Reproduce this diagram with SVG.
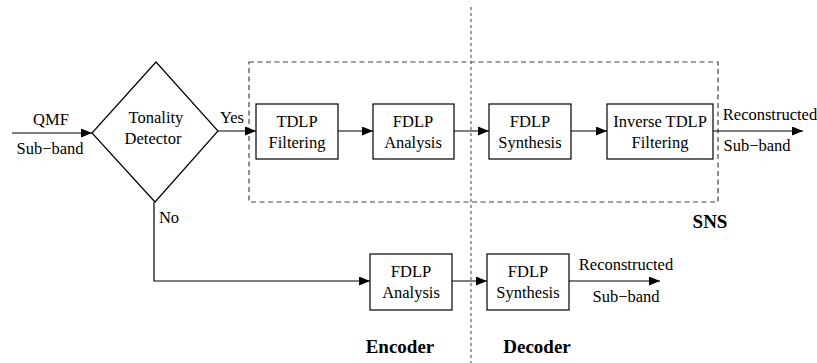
<svg xmlns="http://www.w3.org/2000/svg" width="817" height="363" viewBox="0 0 817 363">
<style>
text{font-family:"Liberation Serif","Times New Roman",serif;font-size:16.5px;fill:#000;text-anchor:middle}
.b{font-weight:bold;font-size:19px}
.box{fill:#fff;stroke:#000;stroke-width:1.2}
.ln{fill:none;stroke:#000;stroke-width:1.2}
</style>
<defs>
<marker id="ah" markerWidth="11" markerHeight="9" refX="11" refY="4.5" orient="auto" markerUnits="userSpaceOnUse">
<path d="M0,0 L11,4.5 L0,9 Z" fill="#000"/>
</marker>
</defs>
<rect width="817" height="363" fill="#fff"/>
<g id="divider">
<line x1="471" y1="7" x2="471" y2="363" stroke="#444" stroke-width="1" stroke-dasharray="3,3"/>
</g>
<g id="sns">
<rect x="249" y="62" width="469" height="140" fill="none" stroke="#444" stroke-width="1.2" stroke-dasharray="5,3.5"/>
<text class="b" x="710" y="228">SNS</text>
</g>
<g id="connectors">
<line class="ln" x1="12" y1="133" x2="92" y2="133" marker-end="url(#ah)"/>
<line class="ln" x1="218" y1="131" x2="256" y2="131" marker-end="url(#ah)"/>
<line class="ln" x1="338" y1="131" x2="373" y2="131" marker-end="url(#ah)"/>
<line class="ln" x1="454" y1="131" x2="489" y2="131" marker-end="url(#ah)"/>
<line class="ln" x1="571" y1="131" x2="607" y2="131" marker-end="url(#ah)"/>
<line class="ln" x1="713" y1="131" x2="803" y2="131" marker-end="url(#ah)"/>
<polyline class="ln" points="154,202 154,281 370,281" marker-end="url(#ah)"/>
<line class="ln" x1="452" y1="281" x2="487" y2="281" marker-end="url(#ah)"/>
<line class="ln" x1="569" y1="281" x2="660" y2="281" marker-end="url(#ah)"/>
</g>
<g id="labels">
<text x="51" y="125">QMF</text>
<text x="50" y="154">Sub−band</text>
<text x="232" y="123">Yes</text>
<text x="169" y="223">No</text>
<text x="770" y="120">Reconstructed</text>
<text x="757" y="151">Sub−band</text>
<text x="626" y="270">Reconstructed</text>
<text x="626" y="302">Sub−band</text>
<text class="b" x="400" y="353">Encoder</text>
<text class="b" x="537" y="353">Decoder</text>
</g>
<g id="tonality">
<polygon class="box" points="156,62 218,131 155,202 92,133"/>
<text x="156" y="123">Tonality</text>
<text x="153" y="144">Detector</text>
</g>
<g id="tdlp">
<rect class="box" x="256" y="104" width="82" height="55"/>
<text x="297" y="127">TDLP</text>
<text x="297" y="148">Filtering</text>
</g>
<g id="fdlp-analysis">
<rect class="box" x="373" y="104" width="81" height="55"/>
<text x="413" y="127">FDLP</text>
<text x="413" y="148">Analysis</text>
</g>
<g id="fdlp-synthesis">
<rect class="box" x="489" y="104" width="82" height="55"/>
<text x="530" y="127">FDLP</text>
<text x="530" y="148">Synthesis</text>
</g>
<g id="inverse-tdlp">
<rect class="box" x="607" y="104" width="106" height="55"/>
<text x="660" y="127">Inverse TDLP</text>
<text x="660" y="148">Filtering</text>
</g>
<g id="fdlp-analysis-2">
<rect class="box" x="370" y="254" width="82" height="56"/>
<text x="411" y="277">FDLP</text>
<text x="411" y="298">Analysis</text>
</g>
<g id="fdlp-synthesis-2">
<rect class="box" x="487" y="254" width="82" height="56"/>
<text x="528" y="277">FDLP</text>
<text x="528" y="298">Synthesis</text>
</g>
</svg>
